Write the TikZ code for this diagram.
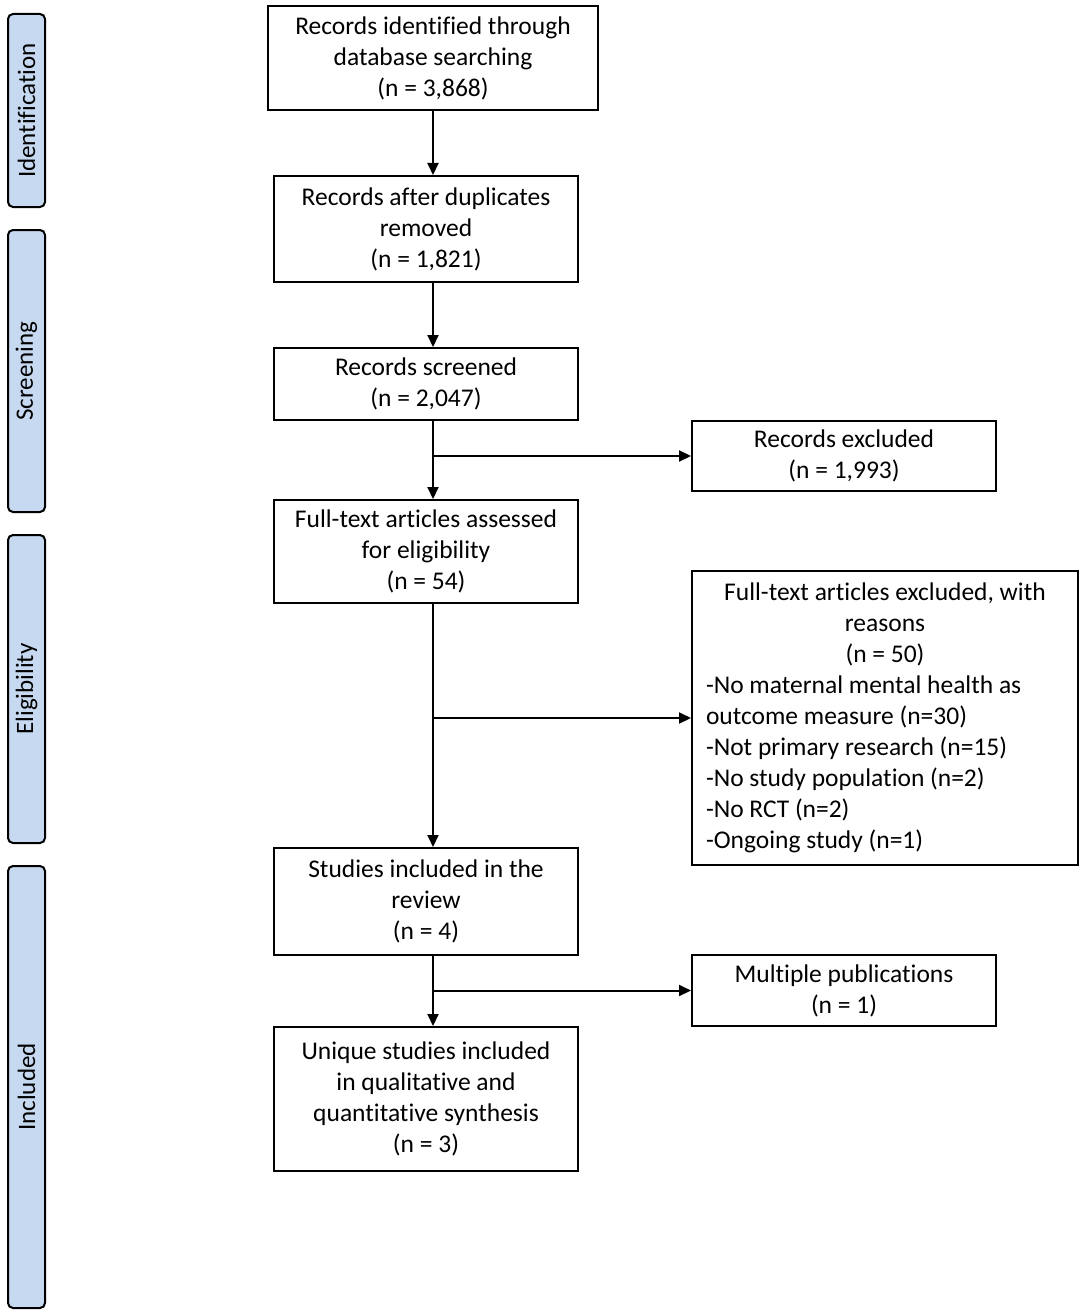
\documentclass[tikz,border=0pt]{standalone}
\usepackage{fontspec}
\setmainfont{Carlito}[Ligatures=NoCommon]
\usetikzlibrary{arrows.meta}
\definecolor{sidefill}{HTML}{C6D9F0}
\newcommand{\lft}[1]{\makebox[358pt][l]{#1}}
\begin{document}
\begin{tikzpicture}[x=1pt,y=-1pt,
  box/.style={draw=black,line width=2pt,inner sep=0pt,align=center,font=\fontsize{25.5}{31}\selectfont},
  side/.style={draw=black,line width=2pt,fill=sidefill,rounded corners=5pt,rotate=90,inner sep=0pt,minimum height=37pt,font=\fontsize{25}{28}\selectfont},
  arr/.style={line width=2pt,-{Triangle[length=12pt,width=11pt]}}]
\useasboundingbox (0,0) rectangle (1084,1316);
% side labels
\node[side,minimum width=193pt] (sid) at (26.5,110.5) {Identification};
\node[side,minimum width=282pt] (ssc) at (26.5,371) {Screening};
\node[side,minimum width=308pt] (sel) at (26.5,689) {Eligibility};
\node[side,minimum width=442pt] (sin) at (26.5,1087) {Included};
% boxes
\node[box,minimum width=330pt,minimum height=104pt] (b1) at (433,58) {Records identified through\\database searching\\(n = 3,868)};
\node[box,minimum width=304pt,minimum height=106pt] (b2) at (426,229) {Records after duplicates\\removed\\(n = 1,821)};
\node[box,minimum width=304pt,minimum height=72pt] (b3) at (426,384) {Records screened\\(n = 2,047)};
\node[box,minimum width=304pt,minimum height=70pt] (b4) at (844,456) {Records excluded\\(n = 1,993)};
\node[box,minimum width=304pt,minimum height=103pt] (b5) at (426,551.5) {Full-text articles assessed\\for eligibility\\(n = 54)};
\node[box,minimum width=386pt,minimum height=294pt] (b6) at (885,718) {Full-text articles excluded, with\\reasons\\(n = 50)\\\lft{-No maternal mental health as}\\\lft{outcome measure (n=30)}\\\lft{-Not primary research (n=15)}\\\lft{-No study population (n=2)}\\\lft{-No RCT (n=2)}\\\lft{-Ongoing study (n=1)}};
\node[box,minimum width=304pt,minimum height=107pt] (b7) at (426,901.5) {Studies included in the\\review\\(n = 4)};
\node[box,minimum width=304pt,minimum height=71pt] (b8) at (844,990.5) {Multiple publications\\(n = 1)};
\node[box,minimum width=304pt,minimum height=144pt] (b9) at (426,1099) {Unique studies included\\in qualitative and\\quantitative synthesis\\(n = 3)};
% connectors
\draw[arr] (b1.south) -- (b1.south |- b2.north);
\draw[arr] (b1.south |- b2.south) -- (b1.south |- b3.north);
\draw[arr] (b1.south |- b3.south) -- (b1.south |- b5.north);
\coordinate (j1) at (b1.south |- b4.west);
\draw[arr] (j1) -- (b4.west);
\draw[arr] (b1.south |- b5.south) -- (b1.south |- b7.north);
\coordinate (j2) at (b1.south |- b6.west);
\draw[arr] (j2) -- (b6.west);
\draw[arr] (b1.south |- b7.south) -- (b1.south |- b9.north);
\coordinate (j3) at (b1.south |- b8.west);
\draw[arr] (j3) -- (b8.west);
\end{tikzpicture}
\end{document}
